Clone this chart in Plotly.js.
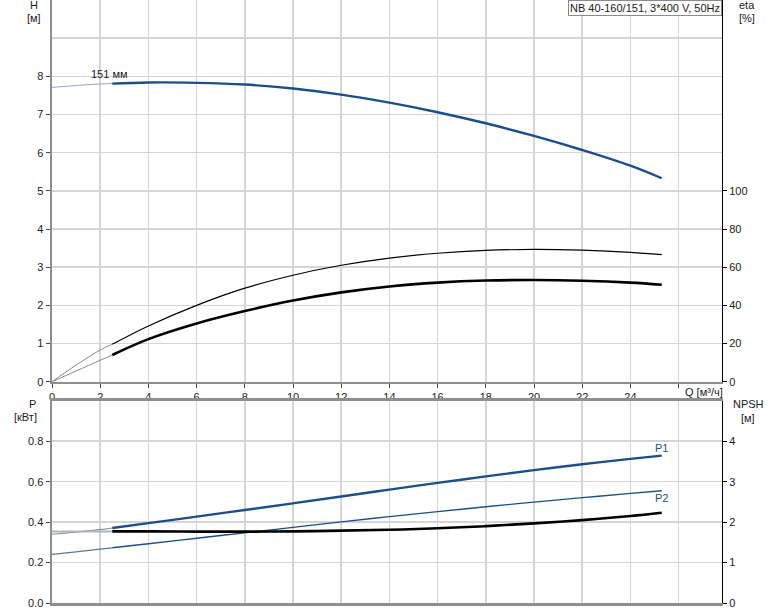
<!DOCTYPE html>
<html>
<head>
<meta charset="utf-8">
<script src="https://cdn.plot.ly/plotly-3.0.1.min.js"></script>
<style>html,body{margin:0;padding:0;background:#fff;}#chart{width:774px;height:611px;}</style>
</head>
<body>
<div id="chart"></div>
<script>
// ---- data ----
var qExt = [0, 1, 2, 2.5];
var qMain = [2.5, 4, 6, 8, 10, 12, 14, 16, 18, 20, 22, 24, 25.3];

var H_ext = [7.71, 7.76, 7.80, 7.81];
var H_main = [7.81, 7.84, 7.83, 7.785, 7.68, 7.52, 7.31, 7.06, 6.77, 6.44, 6.07, 5.66, 5.33];

var etaA_ext = [0, 8.7, 16.6, 19.6];
var etaA_main = [19.6, 29.2, 40.0, 49.0, 55.8, 61.0, 64.8, 67.3, 68.8, 69.3, 68.9, 67.8, 66.6];

var etaB_ext = [0, 5.6, 11.2, 14.0];
var etaB_main = [14.0, 22.3, 30.5, 37.0, 42.5, 46.8, 49.9, 51.9, 53.0, 53.3, 52.9, 51.9, 50.8];

var P1_ext = [0.340, 0.351, 0.363, 0.371];
var P1_main = [0.371, 0.395, 0.427, 0.460, 0.493, 0.527, 0.561, 0.594, 0.626, 0.657, 0.686, 0.713, 0.729];

var P2_ext = [0.240, 0.253, 0.266, 0.273];
var P2_main = [0.273, 0.293, 0.320, 0.347, 0.374, 0.401, 0.427, 0.452, 0.476, 0.499, 0.521, 0.542, 0.555];

var NPSH_ext = [1.77, 1.77, 1.77, 1.77];
var NPSH_main = [1.77, 1.77, 1.765, 1.765, 1.77, 1.79, 1.81, 1.85, 1.90, 1.97, 2.05, 2.15, 2.23];

var qTicks = [0, 2, 4, 6, 8, 10, 12, 14, 16, 18, 20, 22, 24, 26];
var qTickText = ['0', '2', '4', '6', '8', '10', '12', '14', '16', '18', '20', '22', '24', ''];
var hTicks = [0, 1, 2, 3, 4, 5, 6, 7, 8];
var etaTicks = [0, 20, 40, 60, 80, 100];
var pTicks = [0, 0.2, 0.4, 0.6, 0.8];
var pTickText = ['0.0', '0.2', '0.4', '0.6', '0.8'];
var npshTicks = [0, 1, 2, 3, 4];

// ---- geometry helpers ----
var W = 774, Ht = 611, L = 52, R = 52, T = 0, B = 8;
var PW = W - L - R, PH = Ht - T - B;
function px(x) { return (x - L) / PW; }
function py(y) { return (Ht - B - y) / PH; }

var BLUE = '#1b4f8a';
var FONT = 'Liberation Sans, Arial, sans-serif';
var GRID = '#d5d5d5';
var AXG = '#8e8e8e';

function tr(x, y, xa, ya, color, width) {
  return { x: x, y: y, xaxis: xa, yaxis: ya, mode: 'lines', type: 'scatter',
    line: { color: color, width: width, shape: 'spline' }, hoverinfo: 'skip', showlegend: false };
}

var data = [
  tr(qExt, H_ext, 'x', 'y', '#97a6b8', 1),
  tr(qMain, H_main, 'x', 'y', BLUE, 2.4),
  tr(qExt, etaA_ext, 'x', 'y2', '#8a8a8a', 1),
  tr(qMain, etaA_main, 'x', 'y2', '#000', 1.2),
  tr(qExt, etaB_ext, 'x', 'y2', '#8a8a8a', 1),
  tr(qMain, etaB_main, 'x', 'y2', '#000', 2.6),
  tr(qExt, P1_ext, 'x2', 'y3', '#7d92ab', 1.2),
  tr(qMain, P1_main, 'x2', 'y3', BLUE, 2.4),
  tr(qExt, P2_ext, 'x2', 'y3', '#5d7797', 1.2),
  tr(qMain, P2_main, 'x2', 'y3', BLUE, 1.4),
  tr(qExt, NPSH_ext, 'x2', 'y4', '#b4b4b4', 2),
  tr(qMain, NPSH_main, 'x2', 'y4', '#000', 2.6)
];

var tickFont = { family: FONT, size: 11, color: '#1a1a1a' };
var yTopDom = [py(381.7), 1];
var yBotDom = [0, py(400.8)];

var layout = {
  width: W, height: Ht,
  margin: { l: L, r: R, t: T, b: B, pad: 0 },
  paper_bgcolor: '#fff', plot_bgcolor: '#fff',
  showlegend: false,
  font: { family: FONT, size: 11, color: '#1a1a1a' },
  xaxis: {
    domain: [0, 1], anchor: 'y', range: [0, 27.8],
    tickmode: 'array', tickvals: qTicks, ticktext: qTickText,
    showgrid: true, gridcolor: GRID, gridwidth: 1.5, zeroline: false,
    showline: true, linecolor: AXG, linewidth: 2.5,
    ticks: 'outside', ticklen: 4, tickcolor: '#444', tickfont: tickFont
  },
  yaxis: {
    domain: yTopDom, anchor: 'x', range: [0, 10],
    tickmode: 'array', tickvals: hTicks,
    showgrid: true, gridcolor: GRID, gridwidth: 1.5, zeroline: false,
    minor: { tickmode: 'array', tickvals: [9, 10], showgrid: true, gridcolor: GRID, gridwidth: 1.5, ticks: '' },
    showline: true, linecolor: AXG, linewidth: 2.5,
    ticks: 'outside', ticklen: 4, tickcolor: '#444', tickfont: tickFont
  },
  yaxis2: {
    overlaying: 'y', side: 'right', anchor: 'x', range: [0, 200],
    tickmode: 'array', tickvals: etaTicks,
    showgrid: false, zeroline: false,
    showline: true, linecolor: '#000', linewidth: 1,
    ticks: 'outside', ticklen: 4, tickcolor: '#000', tickfont: tickFont
  },
  xaxis2: {
    domain: [0, 1], anchor: 'y3', range: [0, 27.8],
    tickmode: 'array', tickvals: qTicks,
    showticklabels: false,
    showgrid: true, gridcolor: GRID, gridwidth: 1.5, zeroline: false,
    showline: true, mirror: true, linecolor: AXG, linewidth: 2.5, ticks: ''
  },
  yaxis3: {
    domain: yBotDom, anchor: 'x2', range: [0, 1],
    tickmode: 'array', tickvals: pTicks, ticktext: pTickText,
    showgrid: true, gridcolor: GRID, gridwidth: 1.5, zeroline: false,
    showline: true, linecolor: AXG, linewidth: 2.5,
    ticks: 'outside', ticklen: 4, tickcolor: '#444', tickfont: tickFont
  },
  yaxis4: {
    overlaying: 'y3', side: 'right', anchor: 'x2', range: [0, 5],
    tickmode: 'array', tickvals: npshTicks,
    showgrid: false, zeroline: false,
    showline: true, linecolor: '#000', linewidth: 1,
    ticks: 'outside', ticklen: 4, tickcolor: '#000', tickfont: tickFont
  },
  annotations: [
    { xref: 'paper', yref: 'paper', x: px(34), y: py(5), text: 'H', showarrow: false, xanchor: 'center', yanchor: 'middle', font: { family: FONT, size: 11, color: '#1a1a1a' } },
    { xref: 'paper', yref: 'paper', x: px(34), y: py(18), text: '[м]', showarrow: false, xanchor: 'center', yanchor: 'middle', font: { family: FONT, size: 11, color: '#1a1a1a' } },
    { xref: 'paper', yref: 'paper', x: px(747), y: py(5), text: 'eta', showarrow: false, xanchor: 'center', yanchor: 'middle', font: { family: FONT, size: 11, color: '#1a1a1a' } },
    { xref: 'paper', yref: 'paper', x: px(747), y: py(18), text: '[%]', showarrow: false, xanchor: 'center', yanchor: 'middle', font: { family: FONT, size: 11, color: '#1a1a1a' } },
    { xref: 'paper', yref: 'paper', x: px(32), y: py(404), text: 'P', showarrow: false, xanchor: 'center', yanchor: 'middle', font: { family: FONT, size: 11, color: '#1a1a1a' } },
    { xref: 'paper', yref: 'paper', x: px(25), y: py(417), text: '[кВт]', showarrow: false, xanchor: 'center', yanchor: 'middle', font: { family: FONT, size: 11, color: '#1a1a1a' } },
    { xref: 'paper', yref: 'paper', x: px(748), y: py(404), text: 'NPSH', showarrow: false, xanchor: 'center', yanchor: 'middle', font: { family: FONT, size: 11, color: '#1a1a1a' } },
    { xref: 'paper', yref: 'paper', x: px(748), y: py(418), text: '[м]', showarrow: false, xanchor: 'center', yanchor: 'middle', font: { family: FONT, size: 11, color: '#1a1a1a' } },
    { xref: 'paper', yref: 'paper', x: px(683), y: py(392), text: 'Q [м³/ч]', showarrow: false, xanchor: 'left', yanchor: 'middle', font: { family: FONT, size: 11, color: '#1a1a1a' } },
    { xref: 'paper', yref: 'paper', x: 1, y: 1, text: 'NB 40-160/151, 3*400 V, 50Hz', showarrow: false, xanchor: 'right', yanchor: 'top',
      bordercolor: '#8a8a8a', borderwidth: 1, borderpad: 1, bgcolor: '#fff', font: { family: FONT, size: 11, color: '#1a1a1a' } },
    { xref: 'x', yref: 'y', x: 2.4, y: 8.06, text: '151 мм', showarrow: false, xanchor: 'center', yanchor: 'middle', font: { family: FONT, size: 11, color: '#1a1a1a' } },
    { xref: 'x2', yref: 'y3', x: 25.3, y: 0.765, text: 'P1', showarrow: false, xanchor: 'center', yanchor: 'middle', font: { family: FONT, size: 11, color: BLUE } },
    { xref: 'x2', yref: 'y3', x: 25.3, y: 0.518, text: 'P2', showarrow: false, xanchor: 'center', yanchor: 'middle', font: { family: FONT, size: 11, color: BLUE } }
  ]
};

Plotly.newPlot('chart', data, layout, { staticPlot: true, displayModeBar: false });
</script>
</body>
</html>
